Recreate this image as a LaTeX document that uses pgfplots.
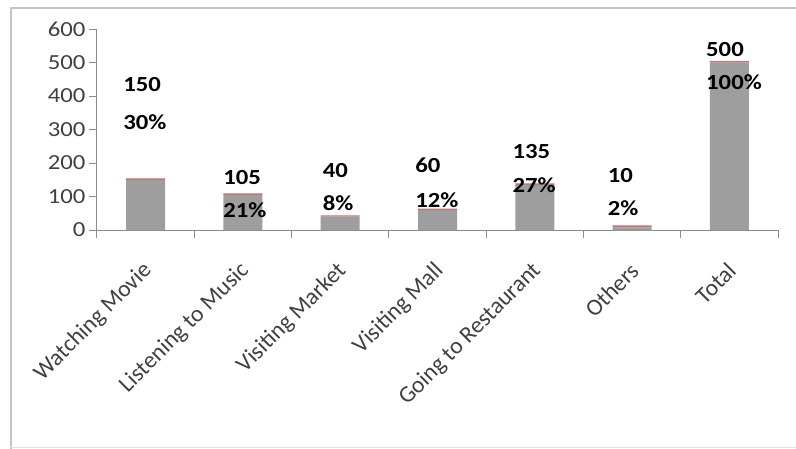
\documentclass[border=0pt]{standalone}
\usepackage{pgfplots}
\pgfplotsset{compat=1.18}
\usepackage{fontspec}
\setmainfont{Carlito}
\newfontfamily\widefont[FakeStretch=1.15]{Carlito}
\definecolor{bargray}{HTML}{9E9E9E}
\definecolor{barred}{HTML}{C86E6E}
\definecolor{axgray}{HTML}{8C8C8C}
\definecolor{txt}{HTML}{404040}
\definecolor{framec}{HTML}{C4C4C4}
\newcommand{\tickfont}{\widefont\fontsize{21.5}{24}\selectfont}
\newcommand{\rotfont}{\fontsize{23.5}{26}\selectfont}
\tikzset{lab/.style={anchor=west, font=\widefont\bfseries\fontsize{21.5}{24}\selectfont, text=black, inner sep=0pt}}
\begin{document}
\begin{tikzpicture}
\useasboundingbox (0,0) rectangle (796pt,448pt);
\draw[framec, line width=1.5pt] (11pt,-5pt) -- (11pt,440pt) -- (805pt,440pt);
\draw[framec!50, line width=1pt] (11pt,1pt) -- (805pt,1pt);
\begin{axis}[
  at={(97pt,218pt)}, anchor=south west,
  scale only axis, width=681pt, height=201pt,
  xmin=-0.5, xmax=6.5, ymin=0, ymax=600,
  ybar stacked, bar width=39pt,
  axis x line=bottom, axis y line=left,
  axis line style={axgray, line width=1pt, -},
  /pgf/number format/assume math mode=true,
  ytick={0,100,...,600},
  xtick={-0.5,0.5,...,6.5}, xticklabels={},
  extra x ticks={0,1,2,3,4,5,6},
  extra x tick labels={Watching Movie,Listening to Music,Visiting Market,Visiting Mall,Going to Restaurant,Others,Total},
  extra x tick style={major tick length=0pt,
     xticklabel style={rotate=45, anchor=east, font=\rotfont, text=txt, xshift=-21pt, yshift=-28pt}},
  tick align=outside, major tick length=8pt,
  tick style={axgray, line width=1pt},
  yticklabel style={font=\tickfont, text=txt},
  clip=false,
]
\addplot[fill=bargray, draw=none] coordinates {(0,150) (1,105) (2,40) (3,60) (4,135) (5,8) (6,500)};
\addplot[fill=barred, draw=none] coordinates {(0,4) (1,4) (2,4) (3,4) (4,4) (5,6) (6,4)};
\coordinate (a1) at (axis cs:-0.232,433);
\coordinate (a2) at (axis cs:-0.232,322);
\coordinate (b1) at (axis cs:0.796,158);
\coordinate (b2) at (axis cs:0.796,60);
\coordinate (c1) at (axis cs:1.82,179);
\coordinate (c2) at (axis cs:1.82,81);
\coordinate (d1) at (axis cs:2.77,194);
\coordinate (d2) at (axis cs:2.77,90);
\coordinate (e1) at (axis cs:3.77,233);
\coordinate (e2) at (axis cs:3.77,134);
\coordinate (f1) at (axis cs:4.75,164);
\coordinate (f2) at (axis cs:4.75,66);
\coordinate (g1) at (axis cs:5.76,540);
\coordinate (g2) at (axis cs:5.76,442);
\end{axis}
\node[lab] at (a1) {150};
\node[lab] at (a2) {30\%};
\node[lab] at (b1) {105};
\node[lab] at (b2) {21\%};
\node[lab] at (c1) {40};
\node[lab] at (c2) {8\%};
\node[lab] at (d1) {60};
\node[lab] at (d2) {12\%};
\node[lab] at (e1) {135};
\node[lab] at (e2) {27\%};
\node[lab] at (f1) {10};
\node[lab] at (f2) {2\%};
\node[lab] at (g1) {500};
\node[lab] at (g2) {100\%};
\end{tikzpicture}
\end{document}
